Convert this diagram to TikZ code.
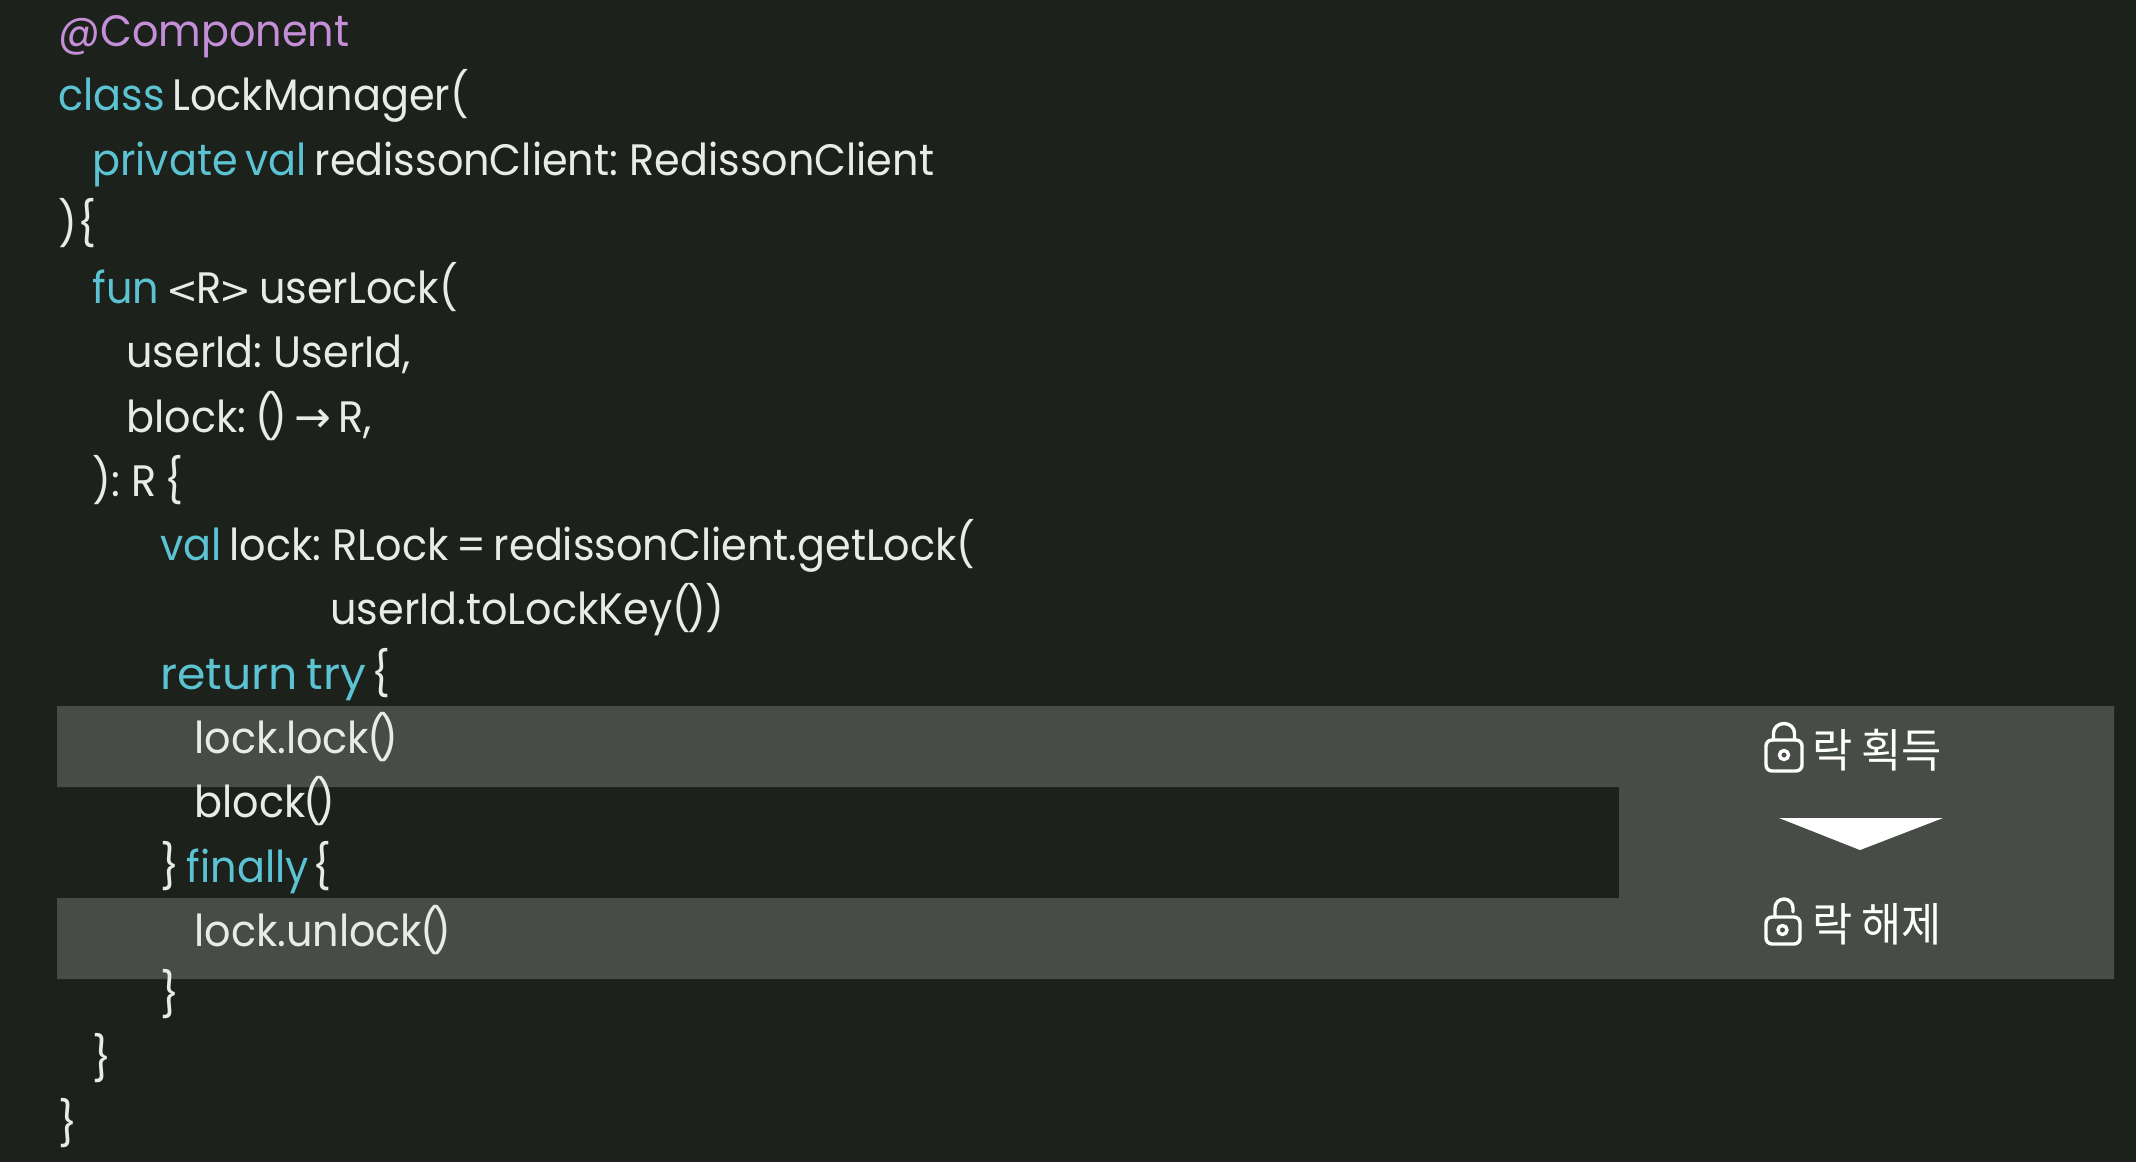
\documentclass[tikz,border=0pt]{standalone}
\usepackage{fontspec}
\setmainfont[FakeStretch=0.94,WordSpace=0.7]{Poppins}
\newfontfamily\widefont[FakeStretch=1.04,WordSpace=0.7]{Poppins}
\newfontfamily\korfont[FakeStretch=0.95,WordSpace=0.9]{Noto Sans CJK KR}
\newfontfamily\signfont{DejaVu Sans}
\definecolor{codebg}{HTML}{1D211C}
\definecolor{codehl}{HTML}{484C47}
\definecolor{codefg}{HTML}{E9ECE6}
\definecolor{keyword}{HTML}{5CC3D2}
\definecolor{annot}{HTML}{C48FD8}
\newcommand{\kw}[1]{\textcolor{keyword}{#1}}
\newcommand{\tp}{\kern-1pt(\kern-3pt)}
\newcommand{\sign}[1]{{\signfont\fontsize{19}{26}\selectfont #1}}
\tikzset{
    codeline/.style={anchor=base west, inner sep=0pt, text=codefg, font=\fontsize{22}{26}\selectfont},
    locklabel/.style={anchor=base west, inner sep=0pt, text=white, font=\korfont\fontsize{23}{26}\selectfont},
    lockline/.style={draw=white, line width=1.7pt, line join=round, line cap=round},
}

\begin{document}
\begin{tikzpicture}[x=0.5pt, y=-0.5pt]

    \fill[codebg] (0,0) rectangle (2136,1162);
    \useasboundingbox (0,0) rectangle (2136,1162);

    % highlighted lines and the band between them
    \fill[codehl] (57,706) -| (2114,979) -| (57,898) -- (1619,898) |- (57,787) -- cycle;

    \node[codeline, text=annot] (annotation) at (58,46) {@Component};
    \node[codeline] (classhead) at (58,110) {\kw{class} LockManager(};
    \node[codeline] (ctorarg) at (92,175) {\kw{private val} redissonClient: RedissonClient};
    \node[codeline] (ctorend) at (58,239) {)\{};
    \node[codeline] (funhead) at (92,303) {\kw{fun} \sign{<}\kern-1pt R\kern-1pt\sign{>} userLock(};
    \node[codeline] (funarga) at (126,367) {userId: UserId,};
    \node[codeline] (funargb) at (126,432) {block: \tp\,{\signfont\fontsize{22}{26}\selectfont →}\,R,};
    \node[codeline] (funend) at (92,496) {): R \{};
    \node[codeline] (getlock) at (160,560) {\kw{val} lock: RLock = redissonClient.getLock(};
    \node[codeline] (lockkey) at (330,624) {userId.toLockKey(\kern-2pt))};
    \node[codeline] (returntry) at (160,689) {\kw{\widefont return try}\kern-1pt\ \{};
    \node[codeline] (locklock) at (194,753) {lock.lock\tp};
    \node[codeline] (blockcall) at (194,817) {block\tp};
    \node[codeline] (finally) at (160,882) {\}\,\kw{finally}\kern-2pt\ \{};
    \node[codeline] (unlock) at (194,946) {lock.unlock\tp};
    \node[codeline] (endfinally) at (160,1010) {\}};
    \node[codeline] (endfun) at (92,1074) {\}};
    \node[codeline] (endclass) at (58,1139) {\}};

    % closed lock
    \draw[lockline, rounded corners=3pt] (1766,740) rectangle (1802,771);
    \draw[lockline] (1773.5,740) -- (1773.5,733) arc[start angle=180, end angle=360, x radius=10.5, y radius=9.5] -- (1794.5,740);
    \draw[lockline] (1784,755) circle[radius=4.5];
    \node[locklabel] (acquire) at (1812,767) {락 획득};

    % down triangle
    \fill[white] (1779,818) -- (1943,818) -- (1860,850) -- cycle;

    % open lock
    \draw[lockline, rounded corners=3pt] (1766,917) rectangle (1800,944);
    \draw[lockline] (1775,917) -- (1775,908) arc[start angle=180, end angle=360, x radius=9, y radius=9] -- (1793,912);
    \draw[lockline] (1782.5,930) circle[radius=4.5];
    \node[locklabel] (release) at (1812,941) {락 해제};

\end{tikzpicture}
\end{document}
